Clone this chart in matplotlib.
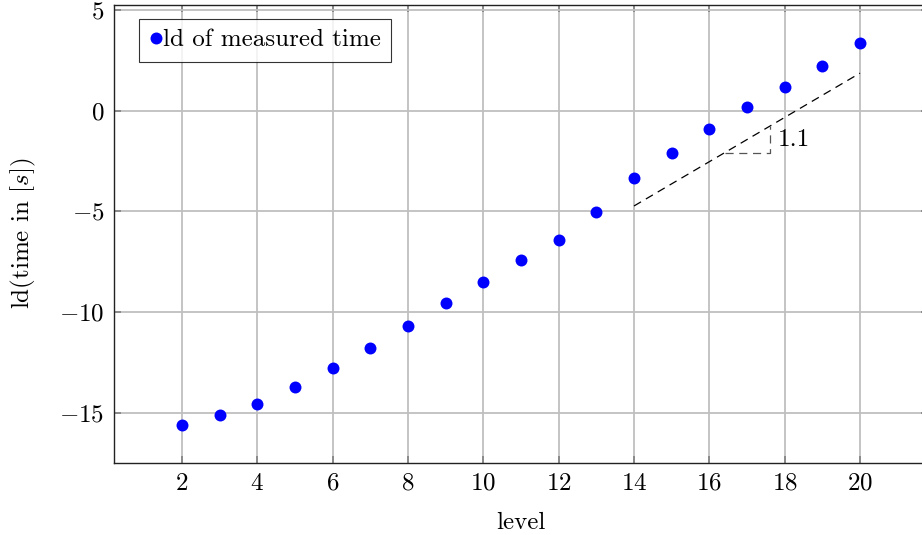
import matplotlib
matplotlib.use("Agg")
import matplotlib.pyplot as plt

plt.rcParams['font.family'] = ['cmr10', 'DejaVu Serif']
plt.rcParams['mathtext.fontset'] = 'cm'
plt.rcParams['axes.formatter.use_mathtext'] = True
plt.rcParams['axes.unicode_minus'] = True

levels = [2, 3, 4, 5, 6, 7, 8, 9, 10, 11, 12, 13, 14, 15, 16, 17, 18, 19, 20]
ld_time = [-15.6, -15.1, -14.55, -13.7, -12.8, -11.77, -10.67, -9.53, -8.53,
           -7.4, -6.4, -5.02, -3.33, -2.08, -0.89, 0.19, 1.18, 2.22, 3.36]
slope_x = [14, 20]
slope_y = [-4.73, 1.87]
tri_x = [16.41, 17.61, 17.61]
tri_y = [-2.08, -2.08, -0.76]
slope_label = "1.1"
xticks = [2, 4, 6, 8, 10, 12, 14, 16, 18, 20]
yticks = [-15, -10, -5, 0, 5]

FS = 18

fig = plt.figure(figsize=(9.22, 5.35), dpi=100)
ax = fig.add_axes([114.2 / 922, (535 - 463) / 535, (927.8 - 114.2) / 922, (463 - 4.5) / 535])

ax.plot(levels, ld_time, 'o', color='#0000ff', markersize=8.6, markeredgewidth=0,
        label='ld of measured time', zorder=3)
ax.plot(slope_x, slope_y, color='black', linewidth=0.9, dashes=(6.5, 4.5), zorder=2)
ax.plot(tri_x, tri_y, color='#555555', linewidth=0.9, dashes=(6.5, 4.5), zorder=2)
ax.text(17.82, -1.45, slope_label, fontsize=FS, va='center', ha='left')

ax.set_xlim(0.2, 21.8)
ax.set_ylim(-17.5, 5.28)
ax.set_xticks(xticks)
ax.set_yticks(yticks)
ax.grid(True, color='#bfbfbf', linewidth=1.3)
ax.set_axisbelow(True)
ax.tick_params(direction='in', length=5, width=1.2, color='#808080', labelsize=FS,
               top=True, right=True, pad=7)
for s in ax.spines.values():
    s.set_linewidth(1.0)
    s.set_color('#222222')

ax.set_xlabel('level', fontsize=FS, labelpad=12)
ax.set_ylabel(r'ld(time in $[s]$)', fontsize=FS, labelpad=15)

leg = ax.legend(loc='upper left', bbox_to_anchor=(25 / 813.6, 1 - 14.5 / 458.5), fontsize=FS,
                frameon=True, fancybox=False, handletextpad=0.0, handlelength=0.55,
                borderpad=0.4, borderaxespad=0)
leg.get_frame().set_edgecolor('black')
leg.get_frame().set_linewidth(0.8)

fig.savefig('out.png', dpi=100)
